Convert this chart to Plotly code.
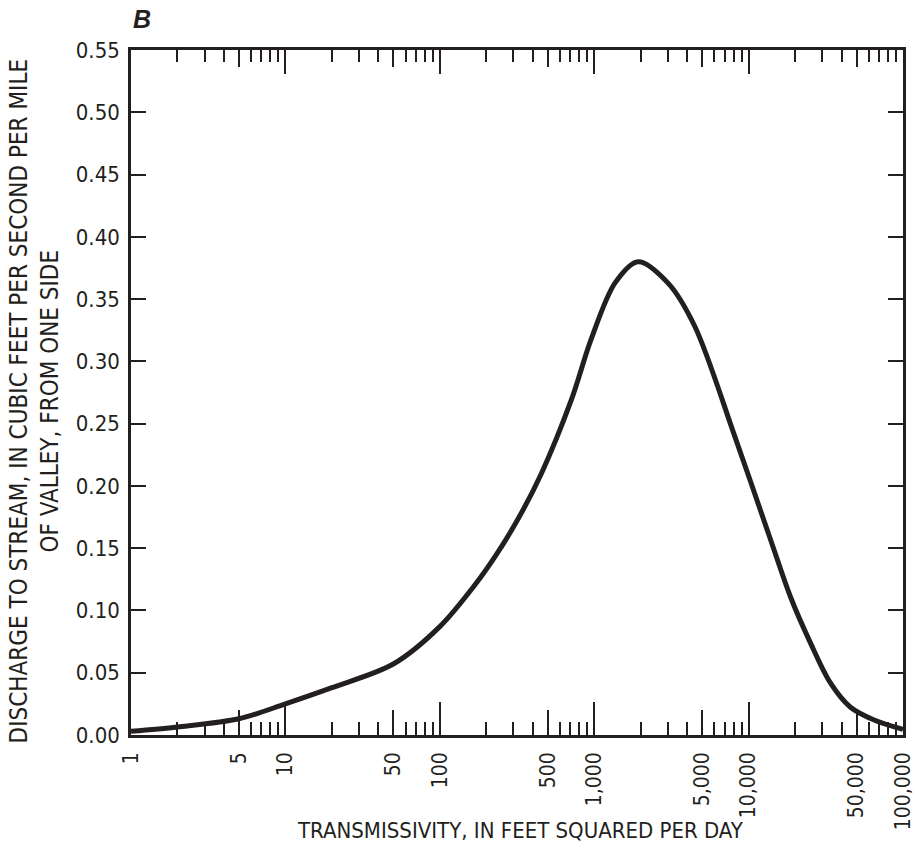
import plotly.graph_objects as go

# ---- data ----
transmissivity = [1, 2, 5, 10, 20, 50, 100, 170, 230, 323, 455, 711,
                  957, 1365, 1923, 3000, 4487, 8128, 13860,
                  18660, 25140, 33800, 45500, 65000, 100000]
discharge = [0.003, 0.0065, 0.013, 0.025, 0.038, 0.057, 0.087, 0.121, 0.144,
             0.174, 0.210, 0.269, 0.318, 0.363, 0.380, 0.363, 0.328,
             0.240, 0.157, 0.111, 0.074, 0.042, 0.0225, 0.012, 0.0045]

x_label_vals = [1, 5, 10, 50, 100, 500, 1000, 5000, 10000, 50000, 100000]
x_label_text = ["1", "5", "10", "50", "100", "500", "1,000", "5,000", "10,000", "50,000", "100,000"]
decade_vals = [1, 10, 100, 1000, 10000, 100000]
five_vals = [5, 50, 500, 5000, 50000]
minor_vals = [m * d for d in [1, 10, 100, 1000, 10000] for m in [2, 3, 4, 6, 7, 8, 9]]

y_tick_vals = [i * 0.05 for i in range(12)]

INK = "#231f20"
FONT = "Liberation Sans Narrow, DejaVu Sans Condensed, Arial Narrow, Liberation Sans, sans-serif"

fig = go.Figure()
fig.add_trace(go.Scatter(x=transmissivity, y=discharge, mode="lines",
                         line=dict(color=INK, width=5, shape="spline", smoothing=0.9),
                         hoverinfo="skip", showlegend=False, cliponaxis=True))
# invisible helper traces so the overlay tick axes are drawn
for ax in ["x2", "x3", "x4"]:
    fig.add_trace(go.Scatter(x=transmissivity, y=discharge, mode="lines", xaxis=ax, yaxis="y",
                             line=dict(color="rgba(0,0,0,0)", width=0),
                             hoverinfo="skip", showlegend=False))

common_x = dict(type="log", range=[0, 5], showgrid=False, zeroline=False, automargin=False)

fig.update_layout(
    width=915, height=854,
    margin=dict(l=131, r=12, t=50, b=119),
    paper_bgcolor="white", plot_bgcolor="white",
    font=dict(family=FONT, color=INK, size=22),
    xaxis=dict(**common_x, showline=True, linecolor=INK, linewidth=2.5,
               tickmode="array", tickvals=x_label_vals, ticktext=x_label_text,
               ticks="inside", ticklen=25, tickwidth=2, tickcolor=INK,
               tickangle=-90, tickfont=dict(family=FONT, size=21, color=INK),
               ticklabelstandoff=6, ticklabeloverflow="allow",
               minor=dict(tickmode="array", tickvals=minor_vals, ticks="inside",
                          ticklen=13, tickwidth=2, tickcolor=INK, showgrid=False)),
    xaxis2=dict(**common_x, overlaying="x", anchor="y", side="bottom", showline=False,
                tickmode="array", tickvals=decade_vals, showticklabels=False,
                ticks="inside", ticklen=33, tickwidth=2, tickcolor=INK),
    xaxis3=dict(**common_x, overlaying="x", anchor="y", side="top", showline=True,
                linecolor=INK, linewidth=2.5,
                tickmode="array", tickvals=decade_vals, showticklabels=False,
                ticks="inside", ticklen=24, tickwidth=2, tickcolor=INK,
                minor=dict(tickmode="array", tickvals=minor_vals, ticks="inside",
                           ticklen=12, tickwidth=2, tickcolor=INK, showgrid=False)),
    xaxis4=dict(**common_x, overlaying="x", anchor="y", side="top", showline=False,
                tickmode="array", tickvals=five_vals, showticklabels=False,
                ticks="inside", ticklen=17, tickwidth=2, tickcolor=INK),
    yaxis=dict(range=[0, 0.55], showgrid=False, zeroline=False, automargin=False,
               showline=True, linecolor=INK, linewidth=2.5, mirror="ticks",
               tickmode="array", tickvals=y_tick_vals, tickformat=".2f",
               ticks="inside", ticklen=15, tickwidth=2, tickcolor=INK,
               tickfont=dict(family=FONT, size=22, color=INK), ticklabelstandoff=4),
)

fig.add_annotation(text="TRANSMISSIVITY, IN FEET SQUARED PER DAY",
                   xref="paper", yref="paper", x=0.505, y=-0.14,
                   xanchor="center", yanchor="middle", showarrow=False,
                   font=dict(family=FONT, size=22, color=INK))
fig.add_annotation(text="DISCHARGE TO STREAM, IN CUBIC FEET PER SECOND PER MILE<br>OF VALLEY, FROM ONE SIDE",
                   xref="paper", yref="paper", x=-0.125, y=0.4876,
                   xanchor="center", yanchor="middle", textangle=-90, showarrow=False,
                   align="center", font=dict(family=FONT, size=24, color=INK))
fig.add_annotation(text="<b><i>B</i></b>", xref="paper", yref="paper",
                   x=0.0, y=1.0, xshift=0, yshift=31, xanchor="left", yanchor="middle",
                   showarrow=False, font=dict(family="Liberation Sans, Arial, sans-serif", size=25, color=INK))

fig.write_html("out.html")
